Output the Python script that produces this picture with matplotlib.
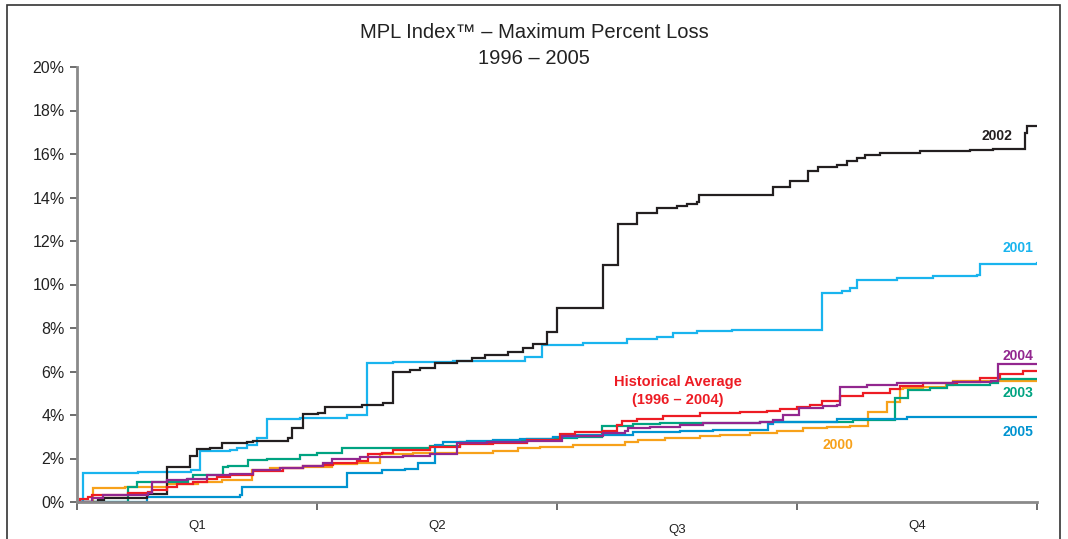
import matplotlib
matplotlib.use("Agg")
import matplotlib.pyplot as plt
from matplotlib.patches import Rectangle
from matplotlib.ticker import FixedLocator, FuncFormatter

plt.rcParams['font.family'] = ['Liberation Sans', 'DejaVu Sans']

# trading day of the year (0..252) and maximum percent loss (%)
days_2002 = [0, 5.5, 7, 18.4, 23.6, 29.7, 31.5, 35, 38.1, 44.6, 46.2, 55.4, 56.4, 59.3, 63.3, 65.1,
             74.8, 80.3, 83, 87.4, 90, 94, 99.75, 103.7, 107.1, 113.1, 117.1, 119.7, 123.4, 126,
             138, 142, 147, 152.25, 157.5, 160.1, 162.75, 163.3, 182.7, 187.2, 191.9, 194.5, 199.5,
             202.1, 204.75, 206.85, 210.8, 221.3, 234.4, 240.5, 248.9, 249.4, 252]
loss_2002 = [0, 0.1, 0.2, 0.35, 1.6, 2.1, 2.45, 2.5, 2.7, 2.75, 2.8, 2.95, 3.4, 4.05, 4.1, 4.37,
             4.45, 4.55, 6.0, 6.05, 6.15, 6.4, 6.5, 6.6, 6.75, 6.9, 7.1, 7.25, 7.8, 8.9,
             10.9, 12.8, 13.3, 13.5, 13.6, 13.7, 13.8, 14.1, 14.5, 14.75, 15.2, 15.4, 15.5,
             15.7, 15.8, 15.95, 16.05, 16.15, 16.2, 16.25, 16.95, 17.3, 17.3]

days_2001 = [0, 1.6, 16, 30, 32.3, 40.2, 42, 44.6, 47.25, 49.9, 58.5, 70.9, 76.1, 83, 98.7,
             117.6, 122.1, 132.8, 144.4, 152.25, 156.45, 162.75, 171.9, 195.6, 200.8, 202.9,
             204.75, 215.25, 224.7, 236.25, 237, 252]
loss_2001 = [0, 1.33, 1.4, 1.47, 2.35, 2.4, 2.5, 2.6, 2.95, 3.8, 3.85, 4.0, 6.4, 6.45, 6.5,
             6.65, 7.2, 7.3, 7.5, 7.6, 7.75, 7.85, 7.9, 9.6, 9.7, 9.85,
             10.2, 10.3, 10.4, 10.45, 10.95, 11.0]

days_2005 = [0, 18.4, 42.8, 43.3, 70.9, 80.1, 82.2, 86.1, 89.5, 94, 96.1, 102.4, 109.2, 116.3,
             124.95, 131.25, 145.95, 158.3, 166.95, 181.4, 182.7, 199.5, 217.9, 252]
loss_2005 = [0, 0.25, 0.3, 0.7, 1.33, 1.45, 1.47, 1.5, 1.8, 2.6, 2.75, 2.8, 2.85, 2.9,
             3.0, 3.1, 3.2, 3.25, 3.3, 3.6, 3.7, 3.8, 3.9, 3.9]

days_2003 = [0, 13.4, 15.75, 29.1, 30.45, 38.3, 39.6, 44.9, 49.9, 58.5, 63, 69.6, 92.7, 100.5,
             110.25, 118.1, 124.95, 131.25, 137.8, 145.95, 153, 179.3, 203.7, 214.7, 218.1,
             223.9, 228.4, 239.7, 241.8, 252]
loss_2003 = [0, 0.7, 0.9, 1.05, 1.25, 1.6, 1.65, 1.93, 2.0, 2.15, 2.25, 2.5, 2.57, 2.75,
             2.8, 2.9, 2.95, 3.0, 3.5, 3.6, 3.65, 3.7, 3.77, 4.8, 5.15,
             5.25, 5.4, 5.45, 5.65, 5.65]

days_2000 = [0, 4.2, 12.6, 23.6, 31.8, 38.1, 45.9, 50.7, 59.3, 66.9, 73.5, 79.5, 88.2, 109.2,
             115.8, 121.5, 130.2, 143.85, 147.3, 154.35, 163.5, 168.8, 176.7, 183.75, 190.6,
             196.9, 202.9, 207.6, 212.6, 216, 216.8, 222, 228, 230, 252]
loss_2000 = [0, 0.65, 0.7, 0.85, 0.9, 1.0, 1.47, 1.55, 1.6, 1.73, 1.78, 2.2, 2.25, 2.35,
             2.5, 2.55, 2.6, 2.78, 2.85, 2.95, 3.03, 3.1, 3.17, 3.25, 3.4,
             3.45, 3.5, 4.15, 4.6, 5.2, 5.25, 5.3, 5.4, 5.55, 5.6]

days_2004 = [0, 4, 6.8, 18.6, 19.7, 23.6, 28.9, 34.1, 40.2, 46.2, 53.3, 59.3, 64.6, 66.9, 74.3,
             85.6, 92.7, 99.75, 107.6, 118.1, 127.3, 138.1, 143.85, 144.6, 150.4, 158.3, 164.3,
             179.3, 182.7, 185.3, 189.5, 195.8, 199.5, 200.3, 207.4, 215.25, 230, 240, 241.8, 252]
loss_2004 = [0, 0.2, 0.3, 0.4, 0.9, 1.0, 1.05, 1.25, 1.3, 1.47, 1.55, 1.65, 1.78, 2.0, 2.07,
             2.1, 2.2, 2.7, 2.75, 2.8, 3.03, 3.17, 3.27, 3.4, 3.45, 3.55, 3.63,
             3.68, 3.77, 4.0, 4.33, 4.4, 4.45, 5.3, 5.38, 5.45, 5.5, 5.55, 6.35, 6.35]

days_avg = [0, 0.8, 2.9, 3.9, 13.4, 18.6, 19.7, 23.6, 26.25, 30.45, 34.1, 36.75, 40.2, 46.2,
            54.1, 59.3, 64.6, 67.2, 73.5, 76.4, 80.1, 83, 92.7, 100.5, 109.2, 118.1, 126.8,
            130.7, 138.1, 141.75, 143.1, 147, 153.8, 163.5, 174, 181.1, 184.5, 189, 192.4,
            195.6, 200.3, 206.3, 213.4, 216, 222.1, 231, 237, 242.3, 248.3, 252]
loss_avg = [0, 0.15, 0.23, 0.3, 0.4, 0.47, 0.55, 0.7, 0.83, 0.93, 1.05, 1.15, 1.25, 1.43,
            1.55, 1.65, 1.7, 1.8, 1.87, 2.2, 2.25, 2.4, 2.53, 2.65, 2.72, 2.85, 3.12,
            3.2, 3.27, 3.55, 3.73, 3.8, 3.95, 4.08, 4.15, 4.2, 4.27, 4.35, 4.45,
            4.65, 4.87, 5.0, 5.2, 5.33, 5.45, 5.53, 5.7, 5.88, 6.03, 6.03]

quarter_edges = [0, 63, 126, 189, 252]
quarter_labels = ['Q1', 'Q2', 'Q3', 'Q4']

# (days, values, colour, label, label day, label value, label size)
series = [
    (days_2000, loss_2000, '#F7A11A', '2000', 199.8, 2.62, 10),
    (days_2003, loss_2003, '#00A381', '2003', 247, 5.01, 10),
    (days_2005, loss_2005, '#0093D0', '2005', 247, 3.22, 10),
    (days_2001, loss_2001, '#19B4EE', '2001', 247, 11.68, 10),
    (days_2002, loss_2002, '#231F20', '2002', 241.5, 16.83, 10),
    (days_avg, loss_avg, '#ED1C24', 'Historical Average\n(1996 \u2013 2004)', 157.8, 5.1, 10.5),
    (days_2004, loss_2004, '#92278F', '2004', 247, 6.71, 10),
]

fig = plt.figure(figsize=(10.68, 5.39), dpi=100)
ax = fig.add_axes([77 / 1068, 1 - 502 / 539, 960 / 1068, 435 / 539])

for d, v, col, lab, lx, ly, fs in series:
    ax.plot(d, v, drawstyle='steps-post', color=col, lw=1.6, solid_joinstyle='miter')
    ax.text(lx, ly, lab, color=col, fontsize=fs, fontweight='bold',
            ha='center', va='center', linespacing=1.3)

ax.set_xlim(0, 252)
ax.set_ylim(0, 20)
ax.set_yticks(range(0, 21, 2))
ax.yaxis.set_major_formatter(FuncFormatter(lambda y, p: f'{y:.0f}%'))
ax.xaxis.set_major_locator(FixedLocator(quarter_edges))
ax.xaxis.set_minor_locator(FixedLocator([31.5, 94.5, 157.5, 220.5]))
ax.set_xticklabels([])
ax.set_xticklabels(quarter_labels, minor=True)
ax.tick_params(axis='x', which='minor', length=0, pad=13, labelsize=9.5, labelcolor='#222222')
ax.tick_params(axis='x', which='major', length=6, width=1.2, color='#555555')
ax.tick_params(axis='y', length=5, width=1.2, color='#555555', labelsize=11.5,
               labelcolor='#222222', pad=4)
ax.xaxis.get_minor_ticks()[2].set_pad(16)

for s in ['top', 'right']:
    ax.spines[s].set_visible(False)
for s in ['left', 'bottom']:
    ax.spines[s].set_color('#8a8a8a')
    ax.spines[s].set_linewidth(2)

fig.text(0.5, 1 - 32 / 539, 'MPL Index\u2122 \u2013 Maximum Percent Loss', ha='center', va='center',
         fontsize=14.5, color='#222222')
fig.text(0.5, 1 - 59 / 539, '1996 \u2013 2005', ha='center', va='center',
         fontsize=14.5, color='#222222')

# outer frame of the picture
fig.patches.append(Rectangle((7 / 1068, -0.1), 1053 / 1068, 1.1 - 5 / 539, transform=fig.transFigure,
                             fill=False, ec='#333333', lw=1.2))

fig.savefig('out.png', dpi=100)
